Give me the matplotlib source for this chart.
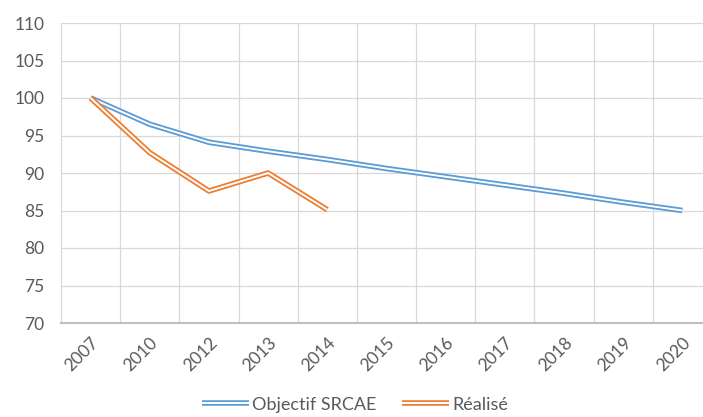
import numpy as np
import matplotlib.pyplot as plt
import matplotlib.patheffects as pe

# Data
years = ["2007", "2010", "2012", "2013", "2014", "2015", "2016", "2017", "2018", "2019", "2020"]
objectif = [100, 96.5, 94.1, 92.9, 91.8, 90.6, 89.5, 88.4, 87.3, 86.1, 85.0]
realise = [100, 92.7, 87.6, 90.0, 85.1]

blue = "#5B9BD5"
orange = "#ED7D31"
txt = "#595959"

plt.rcParams['font.family'] = ['Lato', 'DejaVu Sans']

fig = plt.figure(figsize=(7.03, 4.17), dpi=100)
ax = fig.add_axes([61 / 703, 94 / 417, 651 / 703, 300 / 417])

x = np.arange(len(years))


def double_line(xs, ys, color, label):
    # Excel-like double line: thick coloured stroke with a thin white core
    ax.plot(xs, ys, color="white", lw=1.4, label=label, solid_capstyle="butt",
            path_effects=[pe.Stroke(linewidth=4.0, foreground=color), pe.Normal()])


double_line(x, objectif, blue, "Objectif SRCAE")
double_line(x[:len(realise)], realise, orange, "Réalisé")

ax.set_xlim(-0.5, len(years) - 0.5)
ax.set_ylim(70, 110)
ax.set_yticks(np.arange(70, 111, 5))
ax.set_xticks(x)
ax.set_xticklabels(years, rotation=45, ha="right", rotation_mode="anchor")
ax.set_xticks(x[:-1] + 0.5, minor=True)

ax.grid(True, axis="y", color="#D9D9D9", lw=0.9)
ax.grid(True, axis="x", which="minor", color="#D9D9D9", lw=0.9)
ax.set_axisbelow(True)

for s in ["top", "right"]:
    ax.spines[s].set_visible(False)
ax.spines["left"].set_color("#D9D9D9")
ax.spines["left"].set_linewidth(0.9)
ax.spines["bottom"].set_color("#BFBFBF")
ax.spines["bottom"].set_linewidth(1.5)

ax.tick_params(axis="both", which="both", length=0, colors=txt, labelsize=12.5)
ax.tick_params(axis="x", pad=8)
ax.tick_params(axis="y", pad=12)

ax.legend(loc="center", bbox_to_anchor=(0.452, -0.272), ncol=2, frameon=False,
          fontsize=13, labelcolor=txt, handlelength=2.6, handletextpad=0.2,
          columnspacing=1.4, borderaxespad=0, borderpad=0)

fig.savefig("out.png", dpi=100)
